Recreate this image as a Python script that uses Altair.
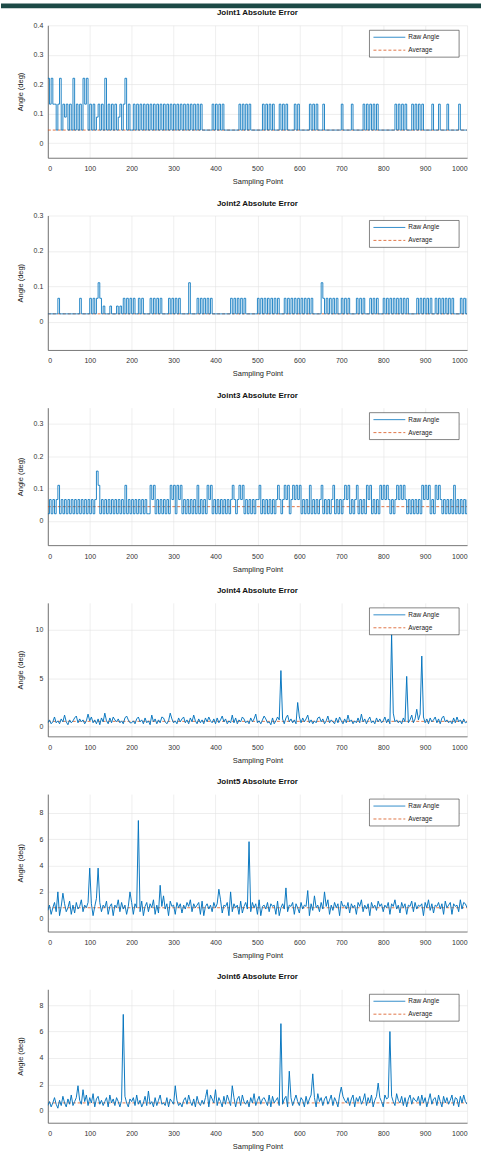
import altair as alt
import pandas as pd

FONT = "Liberation Sans"
BLUE = "#0072BD"
ORANGE = "#D95319"

titles = ["Joint1 Absolute Error", "Joint2 Absolute Error", "Joint3 Absolute Error",
          "Joint4 Absolute Error", "Joint5 Absolute Error", "Joint6 Absolute Error"]
legend_labels = ["Raw Angle", "Average"]
x_ticks = [0, 100, 200, 300, 400, 500, 600, 700, 800, 900, 1000]

# ---- Joints 1-3: quantised encoder readings; codes are multiples of the resolution ----
j1_res = 0.044
j1_pieces = [
    (0, "5353"),
    (16, "3135132313151313153513131231315131313123135131"),
    (200, "131313131313131313131313131313131313131313"),
    (368, "111111"), (392, "31313131"), (424, "11111111"), (456, "31313131"),
    (488, "111111"), (512, "31313131"), (544, "11"), (552, "313131"), (576, "111"),
    (588, "3131"), (604, "11111"), (624, "313131"),
    (648, "11311111111113111113111111"),
    (752, "3131313131"), (792, "111111111"), (828, "31313131"), (860, "11"),
    (868, "31313131"), (900, "1111"), (916, "3"), (920, "111"), (932, "3"),
    (936, "1111"), (952, "3"), (956, "111111"), (980, "3"), (984, "11111"),
]
j2_res = 0.022
j2_pieces = [
    (0, "11111"), (20, "131"), (32, "1111111111"), (72, "131"), (84, "1111"),
    (100, "3131353"), (128, "1211121112121"), (180, "3131313"), (208, "11"),
    (216, "3131"), (232, "111"), (244, "31313131"), (276, "111"), (288, "31313131"),
    (320, "1111"), (336, "5"), (340, "1111"), (356, "313131313"), (392, "11111111111"),
    (436, "313131313"), (472, "1111111"), (500, "3131313131313"), (552, "111"),
    (564, "31313131313131313"), (632, "11111"), (652, "5"), (656, "313131313"),
    (692, "11"), (700, "313131"), (724, "111"), (736, "313131"), (760, "11"),
    (768, "313131"), (792, "11"), (800, "3131313131313131"), (864, "1111"),
    (880, "3131313131"), (920, "1"), (924, "31313131313"), (968, "1111"), (984, "31313"),
]
j3_res = 0.022
j3_pieces = [
    (0, "131313"), (24, "5"), (28, "1313131313131313131313"), (116, "75"),
    (124, "131313131313131"), (184, "5"), (188, "1313131313131"), (240, "15351"),
    (260, "3131313"), (288, "1535153"), (316, "5"), (320, "131313131"), (356, "5"),
    (360, "13131"), (380, "535"), (392, "131313131313"), (440, "5313535"),
    (468, "13131313"), (500, "35"), (508, "1313131313"), (548, "5313535"),
    (576, "13"), (584, "53535"), (604, "13131"), (624, "5"), (628, "131313"),
    (652, "5"), (656, "131313"), (680, "5"), (684, "131313"), (708, "535"),
    (720, "1313"), (736, "5"), (740, "13131"), (760, "535"), (772, "13131"),
    (792, "535353"), (816, "1313"), (832, "535353"), (856, "131313131"),
    (892, "53535"), (912, "131"), (924, "5353"), (940, "1313131"), (968, "5"),
    (972, "1313131"), (1000, "3"),
]

# ---- Joints 4-6: one char per 4 samples, base-36 digit = tenths of a degree ----
j4_band = ("4735a46385 c527469b48 5736d6a473 8295e6394a 7584639b74 "
           "4638a57394 62c58374a9 536e846395 8a47395c63 847395a648 "
           "3947b58364 c49375a846 3958d4637b 8452936a74 839c584736 "
           "a4958c4736 49a5836b47 5394a6384c 5736494d58 37a4639584 "
           "6a4839e574 6395a47c48 i7d5a48395 7a4839b574 6394a57384 5")
j4_spikes = {556: 5.8, 596: 2.5, 820: 9.6, 856: 5.2, 892: 7.3}

j5_band = ("6a38c5k294 b58d3a4c79 e5a8c3b29f 7c5a8d39b2 a8e5c7a39k "
           "c3b8a5d29c 5b8e3a4c9h 7b2d9a3c8b 4a7c9e5b8a c3d29b7a5c "
           "8b3e4a9c2k 5b8a3d49c7 a5c8b3e29a 7c5b9a3d28 b7e5a9c3b8 "
           "4c7a9d2b6h 8a5c7b9e3a 6c8b2d9a7c 4b8a3c9e5a 7b2c8a6d9b "
           "5a8c3b9e7a 4c8b3a9d5c 7a9b2c8e6b 4a9c7b3d8a c3b9a5e7cb 8")
j5_spikes = {36: 1.9, 100: 3.8, 120: 3.8, 216: 7.4, 268: 2.5, 408: 2.2,
             480: 5.8, 568: 2.3, 620: 2.1, 660: 2.0}

j6_band = ("4736a5284b 6395c47a38 5g7c4a6d39 b5847a3c69 4a7385b639 "
           "7a4c5836b4 9573a48c56 4a3975b846 38a5c7493b 6485a73c96 "
           "g4a73b5c84 6a39b4c758 3a6d48b59a 74c3b68a4c 59b36a48c7 "
           "4a83b59c6a 3d7a49b58c 4a73c5b86a 49c3a7b58d 4a6c38b5a7 "
           "3c9a5b74d8 6b4a39c5a8 7b4c6a38d5 9a4c73b6a5 8c4a93b6c7 5")
j6_spikes = {72: 1.9, 180: 7.3, 240: 1.5, 304: 1.9, 380: 1.6, 440: 1.9,
             556: 6.6, 576: 3.0, 632: 2.8, 700: 1.8, 788: 2.1, 816: 6.0}

averages = [0.044, 0.022, 0.044, 0.55, 0.8, 0.6]
y_domains = [[-0.05, 0.4], [-0.08, 0.3], [-0.075, 0.35], [-1, 12.8], [-1, 9.4], [-0.9, 9.2]]
y_ticks = [[0, 0.1, 0.2, 0.3, 0.4], [0, 0.1, 0.2, 0.3], [0, 0.1, 0.2, 0.3],
           [0, 5, 10], [0, 2, 4, 6, 8], [0, 2, 4, 6, 8]]
heights = [133, 135, 138, 134, 138, 134]
stepped = [True, True, True, False, False, False]


def decode_levels(pieces, res):
    xs, ys = [], []
    for start, codes in pieces:
        for k, c in enumerate(codes):
            xs.append(start + 4 * k)
            ys.append(int(c) * res)
    return xs, ys


def decode_band(band, spikes):
    codes = band.replace(" ", "")
    xs, ys = [], []
    for k, c in enumerate(codes):
        x = 4 * k
        xs.append(x)
        ys.append(spikes.get(x, int(c, 36) / 10))
    return xs, ys


series_xy = [
    decode_levels(j1_pieces, j1_res),
    decode_levels(j2_pieces, j2_res),
    decode_levels(j3_pieces, j3_res),
    decode_band(j4_band, j4_spikes),
    decode_band(j5_band, j5_spikes),
    decode_band(j6_band, j6_spikes),
]

W = 421
TOP = -22   # top edge of each panel's bounds, relative to the plot top
LEFT = -47  # left edge of each panel's bounds, relative to the plot left


def panel(i):
    xs, ys = series_xy[i]
    raw = pd.DataFrame({"x": xs, "y": ys})
    av = pd.DataFrame({"x": [0, 1000], "y": [averages[i]] * 2})
    xenc = alt.X("x:Q", scale=alt.Scale(domain=[0, 1000], nice=False),
                 axis=alt.Axis(values=x_ticks, tickCount=20, format="d", title="Sampling Point",
                               labelPadding=7, titlePadding=6, labelOverlap=False))
    yenc = alt.Y("y:Q", scale=alt.Scale(domain=y_domains[i], nice=False, zero=False),
                 axis=alt.Axis(values=y_ticks[i], tickCount=20, format="~r", title="Angle (deg)",
                               labelPadding=5, minExtent=16, maxExtent=16, titlePadding=7,
                               labelOverlap=False))
    avg_line = alt.Chart(av).mark_line(color=ORANGE, strokeWidth=0.8, strokeDash=[3, 2],
                                       clip=True).encode(x=xenc, y=yenc)
    raw_mark = dict(color=BLUE, strokeWidth=0.85 if stepped[i] else 0.95, clip=True)
    if stepped[i]:
        raw_mark["interpolate"] = "step-after"
    raw_line = alt.Chart(raw).mark_line(**raw_mark).encode(x="x:Q", y="y:Q")

    dummy = pd.DataFrame({"d": [0]})
    box = alt.Chart(dummy).mark_rect(fill="white", stroke="#333333", strokeWidth=0.6).encode(
        x=alt.value(323), x2=alt.value(413), y=alt.value(5), y2=alt.value(32))
    sym1 = alt.Chart(dummy).mark_rule(color=BLUE, strokeWidth=0.8).encode(
        x=alt.value(327), x2=alt.value(359), y=alt.value(12))
    sym2 = alt.Chart(dummy).mark_rule(color=ORANGE, strokeWidth=0.8, strokeDash=[3, 2]).encode(
        x=alt.value(327), x2=alt.value(359), y=alt.value(25))
    lab1 = alt.Chart(dummy).mark_text(align="left", baseline="middle", font=FONT, fontSize=6.5,
                                      color="#222222").encode(
        x=alt.value(362), y=alt.value(12), text=alt.value(legend_labels[0]))
    lab2 = alt.Chart(dummy).mark_text(align="left", baseline="middle", font=FONT, fontSize=6.5,
                                      color="#222222").encode(
        x=alt.value(362), y=alt.value(25), text=alt.value(legend_labels[1]))
    title = alt.Chart(dummy).mark_text(align="center", baseline="middle", font=FONT, fontSize=8,
                                       fontWeight="bold", color="#111111").encode(
        x=alt.value(W / 2), y=alt.value(-12), text=alt.value(titles[i]))
    bound = alt.Chart(dummy).mark_rule(color="white", strokeWidth=0.5).encode(
        x=alt.value(LEFT), x2=alt.value(LEFT + 2), y=alt.value(TOP))
    layers = [avg_line, raw_line, box, sym1, sym2, lab1, lab2, title, bound]
    if i == 0:
        strip = alt.Chart(dummy).mark_rect(color="#1c4a46").encode(
            x=alt.value(LEFT), x2=alt.value(LEFT + 482), y=alt.value(TOP), y2=alt.value(TOP + 5))
        layers.append(strip)
    return alt.layer(*layers).properties(width=W, height=heights[i])


chart = alt.vconcat(*[panel(i) for i in range(6)], spacing=7).resolve_scale(
    x="independent", y="independent"
).properties(
    padding={"left": 0, "top": 0, "right": 0, "bottom": 0}
).configure_view(stroke="transparent").configure_axis(
    labelFont=FONT, titleFont=FONT, labelFontSize=7, titleFontSize=7.5,
    labelColor="#333333", titleColor="#222222", gridColor="#e3e3e3", gridWidth=0.6,
    domainColor="#555555", domainWidth=0.8, ticks=False, titleFontWeight="normal"
)

chart.save("out.html", embed_options={"renderer": "svg", "actions": False})
